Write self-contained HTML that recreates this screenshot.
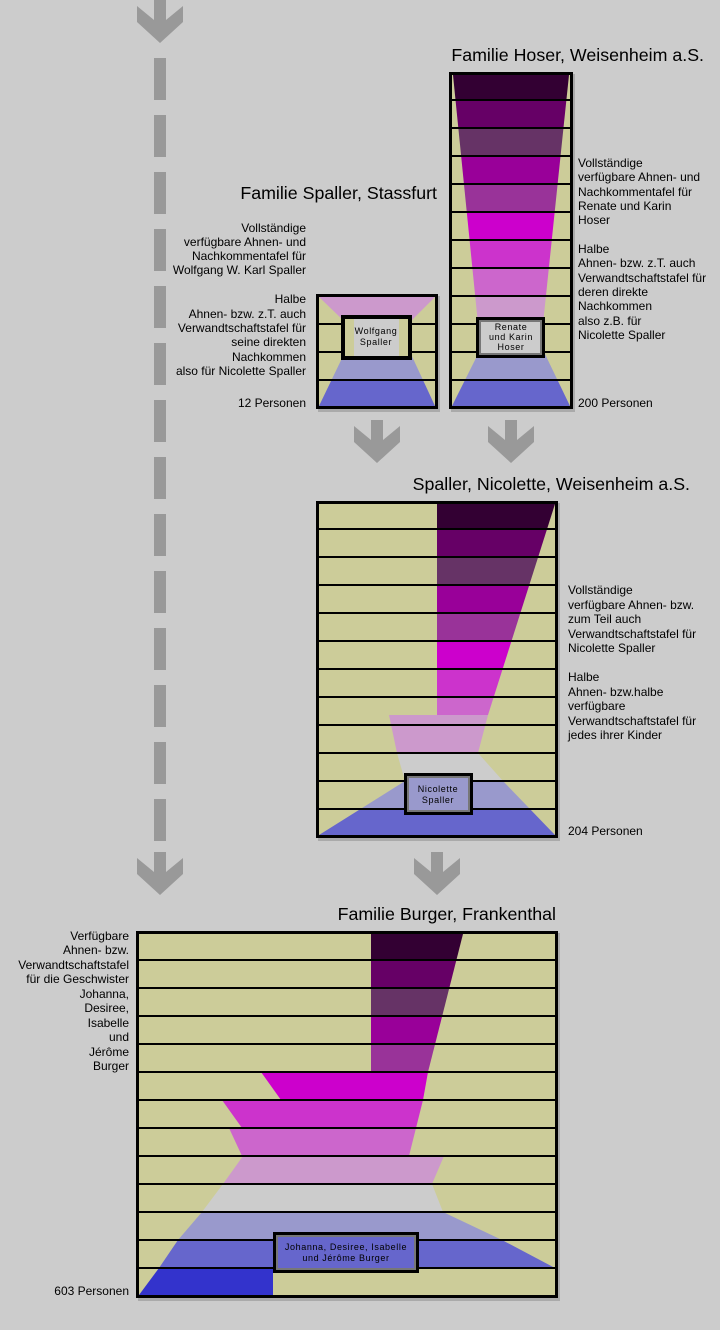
<!DOCTYPE html>
<html><head><meta charset="utf-8"><style>
html,body{margin:0;padding:0;background:#cccccc;}
svg{display:block;}
text{font-family:"Liberation Sans",sans-serif;fill:#000;}
.t{font-size:12px;}
.h{font-size:17.8px;}
.b{font-family:"Liberation Sans",sans-serif;font-size:9px;letter-spacing:0.6px;}
</style></head><body>
<svg width="720" height="1330" viewBox="0 0 720 1330" xmlns="http://www.w3.org/2000/svg">
<defs>
<g id="arr"><polygon points="-6,0 6,0 6,20 23,6 23,22 0,43 -23,22 -23,6 -6,20" fill="#999999"/></g>
</defs>
<rect width="720" height="1330" fill="#cccccc"/>

<use href="#arr" x="160" y="0"/>
<line x1="160" y1="58" x2="160" y2="845" stroke="#999999" stroke-width="12" stroke-dasharray="42,15"/>
<use href="#arr" x="160" y="852"/>
<use href="#arr" x="377" y="420"/>
<use href="#arr" x="511" y="420"/>
<use href="#arr" x="437" y="852"/>

<!-- ===== HOSER ===== -->
<text class="h" x="704" y="61" text-anchor="end">Familie Hoser, Weisenheim a.S.</text>
<rect x="451" y="74" width="124" height="338" fill="#aaaaaa"/>
<rect x="449" y="72" width="124" height="337" fill="#000"/>
<rect x="452" y="75" width="118" height="331" fill="#cccc99"/>
<clipPath id="hf"><polygon points="453,75 569,75 543,324 478,324"/></clipPath>
<g clip-path="url(#hf)">
<rect x="452" y="75" width="118" height="25" fill="#330033"/>
<rect x="452" y="100" width="118" height="28" fill="#660066"/>
<rect x="452" y="128" width="118" height="28" fill="#663366"/>
<rect x="452" y="156" width="118" height="28" fill="#990099"/>
<rect x="452" y="184" width="118" height="28" fill="#993399"/>
<rect x="452" y="212" width="118" height="28" fill="#cc00cc"/>
<rect x="452" y="240" width="118" height="28" fill="#cc33cc"/>
<rect x="452" y="268" width="118" height="28" fill="#cc66cc"/>
<rect x="452" y="296" width="118" height="28" fill="#cc99cc"/>
</g>
<rect x="480" y="324" width="64" height="28" fill="#cccccc"/>
<clipPath id="hb"><polygon points="479,352 544,352 570,406 452,406"/></clipPath>
<g clip-path="url(#hb)">
<rect x="452" y="352" width="118" height="28" fill="#9999cc"/>
<rect x="452" y="380" width="118" height="26" fill="#6666cc"/>
</g>
<g stroke="#000" stroke-width="2">
<line x1="452" y1="100" x2="570" y2="100"/><line x1="452" y1="128" x2="570" y2="128"/>
<line x1="452" y1="156" x2="570" y2="156"/><line x1="452" y1="184" x2="570" y2="184"/>
<line x1="452" y1="212" x2="570" y2="212"/><line x1="452" y1="240" x2="570" y2="240"/>
<line x1="452" y1="268" x2="570" y2="268"/><line x1="452" y1="296" x2="570" y2="296"/>
<line x1="452" y1="324" x2="570" y2="324"/><line x1="452" y1="352" x2="570" y2="352"/>
<line x1="452" y1="380" x2="570" y2="380"/>
</g>
<rect x="476" y="317" width="69" height="41" fill="#000"/>
<rect x="479" y="320" width="63" height="35" fill="#777"/>
<rect x="481" y="322" width="59" height="31" fill="#cccccc"/>
<text class="b" x="511" y="330" text-anchor="middle">Renate</text>
<text class="b" x="511" y="340" text-anchor="middle">und Karin</text>
<text class="b" x="511" y="350" text-anchor="middle">Hoser</text>

<text class="t" x="578" y="167">Vollständige</text>
<text class="t" x="578" y="181">verfügbare Ahnen- und</text>
<text class="t" x="578" y="196">Nachkommentafel für</text>
<text class="t" x="578" y="210">Renate und Karin</text>
<text class="t" x="578" y="224">Hoser</text>
<text class="t" x="578" y="253">Halbe</text>
<text class="t" x="578" y="267">Ahnen- bzw. z.T. auch</text>
<text class="t" x="578" y="282">Verwandtschaftstafel für</text>
<text class="t" x="578" y="296">deren direkte</text>
<text class="t" x="578" y="310">Nachkommen</text>
<text class="t" x="578" y="325">also z.B. für</text>
<text class="t" x="578" y="339">Nicolette Spaller</text>
<text class="t" x="578" y="407">200 Personen</text>

<!-- ===== SPALLER ===== -->
<text class="h" x="437" y="199" text-anchor="end">Familie Spaller, Stassfurt</text>
<text class="t" x="306" y="232" text-anchor="end">Vollständige</text>
<text class="t" x="306" y="246" text-anchor="end">verfügbare Ahnen- und</text>
<text class="t" x="306" y="260" text-anchor="end">Nachkommentafel für</text>
<text class="t" x="306" y="274" text-anchor="end">Wolfgang W. Karl Spaller</text>
<text class="t" x="306" y="303" text-anchor="end">Halbe</text>
<text class="t" x="306" y="318" text-anchor="end">Ahnen- bzw. z.T. auch</text>
<text class="t" x="306" y="332" text-anchor="end">Verwandtschaftstafel für</text>
<text class="t" x="306" y="346" text-anchor="end">seine direkten</text>
<text class="t" x="306" y="361" text-anchor="end">Nachkommen</text>
<text class="t" x="306" y="375" text-anchor="end">also für Nicolette Spaller</text>
<text class="t" x="306" y="407" text-anchor="end">12 Personen</text>

<rect x="318" y="296" width="122" height="116" fill="#aaaaaa"/>
<rect x="316" y="294" width="122" height="115" fill="#000"/>
<rect x="319" y="297" width="116" height="109" fill="#cccc99"/>
<polygon points="319,297 435,297 410,322 345,322" fill="#cc99cc"/>
<clipPath id="sb"><polygon points="345,352 410,352 435,406 319,406"/></clipPath>
<g clip-path="url(#sb)">
<rect x="319" y="352" width="116" height="28" fill="#9999cc"/>
<rect x="319" y="380" width="116" height="26" fill="#6666cc"/>
</g>
<rect x="345" y="324" width="65" height="28" fill="#cccccc"/>
<g stroke="#000" stroke-width="2">
<line x1="319" y1="324" x2="435" y2="324"/><line x1="319" y1="352" x2="435" y2="352"/><line x1="319" y1="380" x2="435" y2="380"/>
</g>
<rect x="341" y="315" width="71" height="45" fill="#000"/>
<rect x="345" y="319" width="63" height="37" fill="#cccc99"/>
<rect x="354" y="319" width="45" height="37" fill="#cccccc"/>
<text class="b" x="376" y="334" text-anchor="middle">Wolfgang</text>
<text class="b" x="376" y="345" text-anchor="middle">Spaller</text>

<!-- ===== NICOLETTE ===== -->
<text class="h" x="690" y="490" text-anchor="end">Spaller, Nicolette, Weisenheim a.S.</text>
<rect x="318" y="503" width="242" height="338" fill="#aaaaaa"/>
<rect x="316" y="501" width="242" height="337" fill="#000"/>
<rect x="319" y="504" width="236" height="331" fill="#cccc99"/>
<clipPath id="nf"><polygon points="437,504 555,504 488,715 437,715"/></clipPath>
<g clip-path="url(#nf)">
<rect x="437" y="504" width="118" height="25" fill="#330033"/>
<rect x="437" y="529" width="118" height="28" fill="#660066"/>
<rect x="437" y="557" width="118" height="28" fill="#663366"/>
<rect x="437" y="585" width="118" height="28" fill="#990099"/>
<rect x="437" y="613" width="118" height="28" fill="#993399"/>
<rect x="437" y="641" width="118" height="28" fill="#cc00cc"/>
<rect x="437" y="669" width="118" height="28" fill="#cc33cc"/>
<rect x="437" y="697" width="118" height="18" fill="#cc66cc"/>
</g>
<polygon points="389,715 488,715 478,753 397,753" fill="#cc99cc"/>
<polygon points="397,753 478,753 503,781 405,781" fill="#cccccc"/>
<clipPath id="nb"><polygon points="405,781 503,781 555,835 319,835"/></clipPath>
<g clip-path="url(#nb)">
<rect x="319" y="781" width="236" height="28" fill="#9999cc"/>
<rect x="319" y="809" width="236" height="26" fill="#6666cc"/>
</g>
<g stroke="#000" stroke-width="2">
<line x1="319" y1="529" x2="555" y2="529"/><line x1="319" y1="557" x2="555" y2="557"/>
<line x1="319" y1="585" x2="555" y2="585"/><line x1="319" y1="613" x2="555" y2="613"/>
<line x1="319" y1="641" x2="555" y2="641"/><line x1="319" y1="669" x2="555" y2="669"/>
<line x1="319" y1="697" x2="555" y2="697"/><line x1="319" y1="725" x2="555" y2="725"/>
<line x1="319" y1="753" x2="555" y2="753"/><line x1="319" y1="781" x2="555" y2="781"/>
<line x1="319" y1="809" x2="555" y2="809"/>
</g>
<rect x="404" y="773" width="69" height="42" fill="#000"/>
<rect x="407" y="776" width="63" height="36" fill="#777"/>
<rect x="409" y="778" width="59" height="32" fill="#9999cc"/>
<text class="b" x="438" y="792" text-anchor="middle">Nicolette</text>
<text class="b" x="438" y="803" text-anchor="middle">Spaller</text>

<text class="t" x="568" y="594">Vollständige</text>
<text class="t" x="568" y="609">verfügbare Ahnen- bzw.</text>
<text class="t" x="568" y="623">zum Teil auch</text>
<text class="t" x="568" y="638">Verwandtschaftstafel für</text>
<text class="t" x="568" y="652">Nicolette Spaller</text>
<text class="t" x="568" y="681">Halbe</text>
<text class="t" x="568" y="696">Ahnen- bzw.halbe</text>
<text class="t" x="568" y="710">verfügbare</text>
<text class="t" x="568" y="725">Verwandtschaftstafel für</text>
<text class="t" x="568" y="739">jedes ihrer Kinder</text>
<text class="t" x="568" y="835">204 Personen</text>

<!-- ===== BURGER ===== -->
<text class="h" x="556" y="920" text-anchor="end">Familie Burger, Frankenthal</text>
<text class="t" x="129" y="940" text-anchor="end">Verfügbare</text>
<text class="t" x="129" y="954" text-anchor="end">Ahnen- bzw.</text>
<text class="t" x="129" y="969" text-anchor="end">Verwandtschaftstafel</text>
<text class="t" x="129" y="983" text-anchor="end">für die Geschwister</text>
<text class="t" x="129" y="998" text-anchor="end">Johanna,</text>
<text class="t" x="129" y="1012" text-anchor="end">Desiree,</text>
<text class="t" x="129" y="1027" text-anchor="end">Isabelle</text>
<text class="t" x="129" y="1041" text-anchor="end">und</text>
<text class="t" x="129" y="1056" text-anchor="end">Jérôme</text>
<text class="t" x="129" y="1070" text-anchor="end">Burger</text>
<text class="t" x="129" y="1295" text-anchor="end">603 Personen</text>

<rect x="138" y="933" width="422" height="368" fill="#aaaaaa"/>
<rect x="136" y="931" width="422" height="367" fill="#000"/>
<rect x="139" y="934" width="416" height="361" fill="#cccc99"/>
<clipPath id="bf"><polygon points="371,934 463,934 428,1072 371,1072"/></clipPath>
<g clip-path="url(#bf)">
<rect x="371" y="934" width="92" height="26" fill="#330033"/>
<rect x="371" y="960" width="92" height="28" fill="#660066"/>
<rect x="371" y="988" width="92" height="28" fill="#663366"/>
<rect x="371" y="1016" width="92" height="28" fill="#990099"/>
<rect x="371" y="1044" width="92" height="28" fill="#993399"/>
</g>
<polygon points="261,1072 428,1072 423,1100 281,1100" fill="#cc00cc"/>
<polygon points="222,1100 423,1100 416,1128 242,1128" fill="#cc33cc"/>
<polygon points="229,1128 416,1128 409,1156 242,1156" fill="#cc66cc"/>
<polygon points="243,1156 444,1156 432,1184 223,1184" fill="#cc99cc"/>
<polygon points="223,1184 432,1184 443,1212 202,1212" fill="#cccccc"/>
<polygon points="202,1212 443,1212 502,1240 178,1240" fill="#9999cc"/>
<polygon points="178,1240 502,1240 555,1268 159,1268" fill="#6666cc"/>
<polygon points="159,1268 273,1268 273,1295 139,1295" fill="#3333cc"/>
<g stroke="#000" stroke-width="2">
<line x1="139" y1="960" x2="555" y2="960"/><line x1="139" y1="988" x2="555" y2="988"/>
<line x1="139" y1="1016" x2="555" y2="1016"/><line x1="139" y1="1044" x2="555" y2="1044"/>
<line x1="139" y1="1072" x2="555" y2="1072"/><line x1="139" y1="1100" x2="555" y2="1100"/>
<line x1="139" y1="1128" x2="555" y2="1128"/><line x1="139" y1="1156" x2="555" y2="1156"/>
<line x1="139" y1="1184" x2="555" y2="1184"/><line x1="139" y1="1212" x2="555" y2="1212"/>
<line x1="139" y1="1240" x2="555" y2="1240"/><line x1="139" y1="1268" x2="555" y2="1268"/>
</g>
<rect x="273" y="1232" width="146" height="41" fill="#000"/>
<rect x="276" y="1235" width="140" height="35" fill="#777"/>
<rect x="278" y="1237" width="136" height="31" fill="#6666cc"/>
<text class="b" x="346" y="1250" text-anchor="middle">Johanna, Desiree, Isabelle</text>
<text class="b" x="346" y="1261" text-anchor="middle">und Jérôme Burger</text>
</svg>
</body></html>
